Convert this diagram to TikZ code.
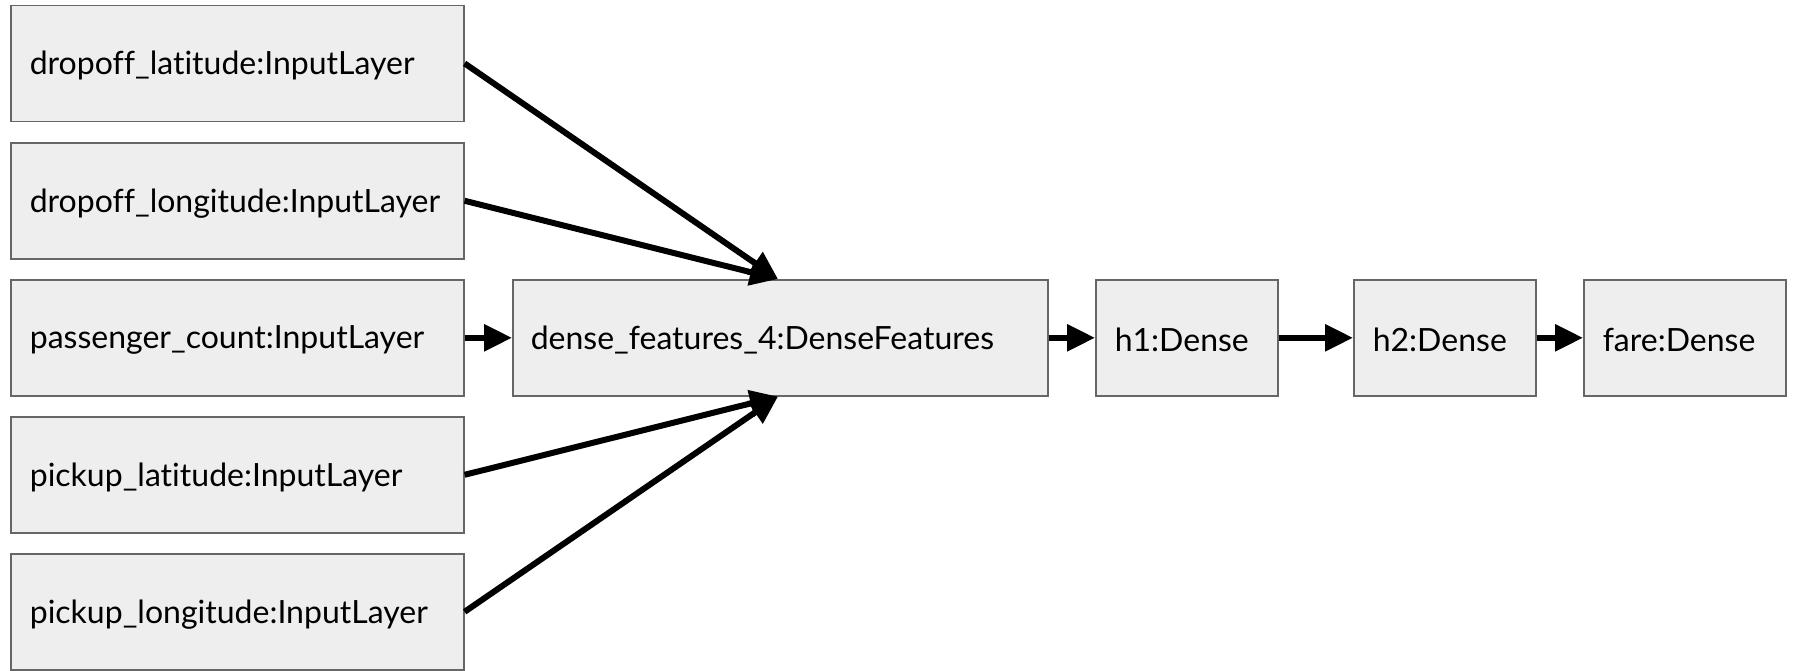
\documentclass[tikz,border=0pt]{standalone}
\usepackage{fontspec}
\setmainfont[Ligatures=NoCommon]{Lato}
\usetikzlibrary{arrows.meta}
\definecolor{boxfill}{HTML}{EEEEEE}
\definecolor{boxline}{HTML}{666666}
\tikzset{
  layer/.style={draw=boxline, fill=boxfill, line width=1.6pt, anchor=north west,
    minimum height=116pt, inner xsep=0pt, inner ysep=0pt, align=left,
    font=\fontsize{32}{38}\selectfont},
  flow/.style={line width=6pt, -{Triangle[length=28pt, width=26pt]}},
}
% layer caption: indented from the left edge, set slightly below centre
\newcommand{\lbl}[2]{\hspace*{#1pt}\raisebox{-2.5pt}[\height][\depth]{#2}}
\begin{document}
\begin{tikzpicture}[x=1pt, y=-1pt]
\useasboundingbox (0,0) rectangle (1793,670);
% input layers
\node[layer, text width=453pt] (dlat) at (10,4.6) {\lbl{19}{dropoff\_latitude:InputLayer}};
\node[layer, text width=453pt] (dlon) at (10,142) {\lbl{19}{dropoff\_longitude:InputLayer}};
\node[layer, text width=453pt] (pc) at (10,279) {\lbl{19}{passenger\_count:InputLayer}};
\node[layer, text width=453pt] (plat) at (10,416) {\lbl{19}{pickup\_latitude:InputLayer}};
\node[layer, text width=453pt] (plon) at (10,553) {\lbl{19}{pickup\_longitude:InputLayer}};
% main chain
\node[layer, text width=535pt] (df) at (512,279) {\lbl{18}{dense\_features\_4:DenseFeatures}};
\node[layer, text width=182pt] (h1) at (1095,279) {\lbl{19}{h1:Dense}};
\node[layer, text width=182pt] (h2) at (1353,279) {\lbl{19}{h2:Dense}};
\node[layer, text width=202pt] (fare) at (1583,279) {\lbl{19}{fare:Dense}};
% merge points on the feature layer
\coordinate (dfin) at ([xshift=266pt]df.north west);
\coordinate (dfinb) at ([xshift=266pt]df.south west);
% connectors
\draw[flow] (dlat.east) -- (dfin);
\draw[flow] (dlon.east) -- (dfin);
\draw[flow] (pc.east) -- (df.west);
\draw[flow] (plat.east) -- (dfinb);
\draw[flow] (plon.east) -- (dfinb);
\draw[flow] (df.east) -- (h1.west);
\draw[flow] (h1.east) -- (h2.west);
\draw[flow] (h2.east) -- (fare.west);
\end{tikzpicture}
\end{document}
